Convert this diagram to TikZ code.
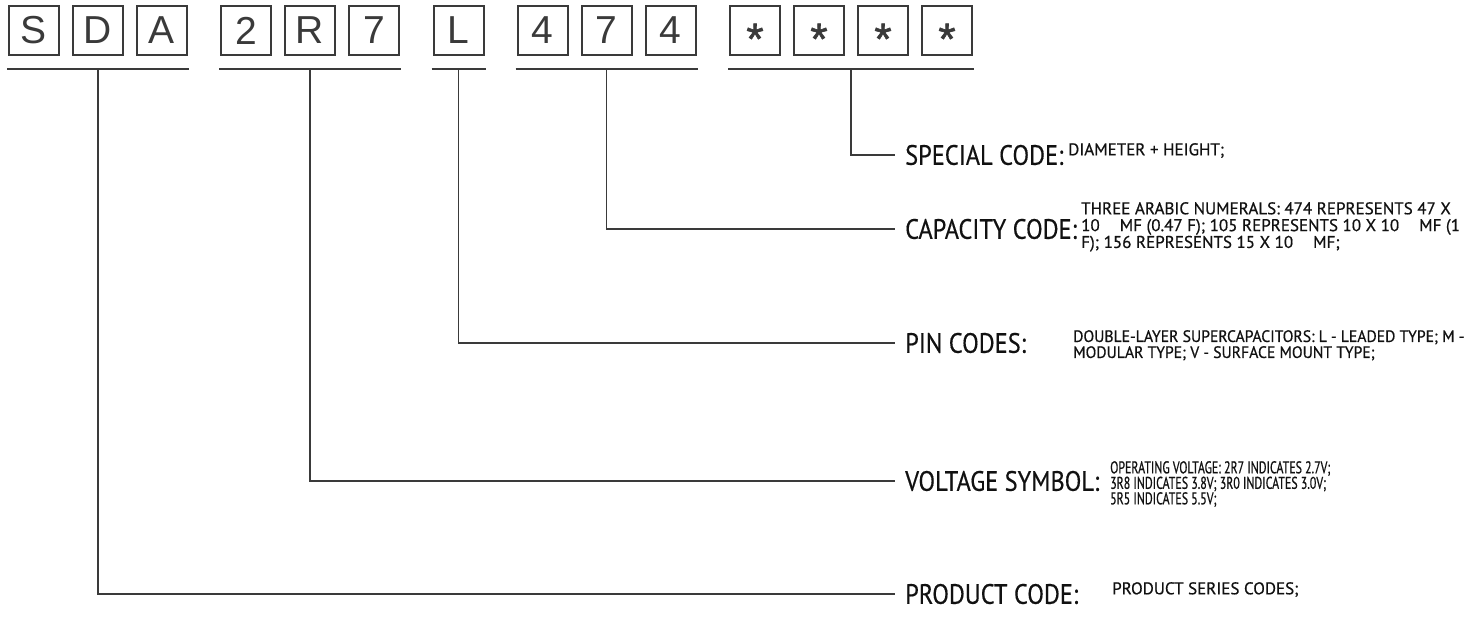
\documentclass[tikz,border=0pt]{standalone}
\usepackage{fontspec}
\usetikzlibrary{calc}
\setmainfont{PT Sans}
\newfontfamily\boxfont{Liberation Sans}
\newfontfamily\starfont[FakeBold=1.5]{Liberation Sans}
\newfontfamily\labfont[FakeStretch=0.87,FakeBold=0.4]{PT Sans}
\newfontfamily\descfont[FakeStretch=1.0,FakeBold=0.6]{PT Sans}
\newfontfamily\pinfont[FakeStretch=0.95,FakeBold=0.6]{PT Sans}
\newfontfamily\voltfont[FakeStretch=0.7,FakeBold=0.6]{PT Sans}
\definecolor{ink}{HTML}{3A3A3A}
\definecolor{txt}{HTML}{111111}
\newcommand{\gapsp}{\hspace{20pt}}
\newcommand{\starglyph}{\smash{\raisebox{-23.5pt}{\starfont\fontsize{44}{44}\selectfont *}}}
\begin{document}
\begin{tikzpicture}[x=1pt,y=-1pt,
  cbox/.style={draw=ink,line width=2pt,minimum width=50pt,minimum height=49pt,inner sep=0pt,text=ink,font=\boxfont\fontsize{39}{39}\selectfont},
  uline/.style={draw=ink,line width=2pt},
  conn/.style={draw=ink,line width=1.6pt},
  lab/.style={anchor=west,inner xsep=10pt,inner ysep=0pt,text=txt,font=\labfont\fontsize{28}{28}\selectfont},
  desc/.style={anchor=north west,inner sep=0pt,align=left,text=txt,font=\descfont\fontsize{17}{16.8}\selectfont},
  pdesc/.style={desc,font=\pinfont\fontsize{16.5}{16}\selectfont},
  vdesc/.style={desc,font=\voltfont\fontsize{17}{15.5}\selectfont}]
\useasboundingbox (0,0) rectangle (1479,626);

% code boxes
\node[cbox] (b1) at (34,30.5) {S};
\node[cbox] (b2) at (98,30.5) {D};
\node[cbox] (b3) at (162,30.5) {A};
\node[cbox] (b4) at (246,30.5) {2};
\node[cbox] (b5) at (310,30.5) {R};
\node[cbox] (b6) at (374,30.5) {7};
\node[cbox] (b7) at (458.5,30.5) {L};
\node[cbox] (b8) at (542.5,30.5) {4};
\node[cbox] (b9) at (606.5,30.5) {7};
\node[cbox] (b10) at (670.5,30.5) {4};
\node[cbox] (b11) at (755,30.5) {\starglyph};
\node[cbox] (b12) at (819,30.5) {\starglyph};
\node[cbox] (b13) at (883,30.5) {\starglyph};
\node[cbox] (b14) at (947,30.5) {\starglyph};
\coordinate (g5) at ($(b12.south)!0.5!(b13.south)$);

% underlines
\draw[uline] ([shift={(-1pt,-13pt)}]b1.south west) -- ([shift={(1pt,-13pt)}]b3.south east);
\draw[uline] ([shift={(-1pt,-13pt)}]b4.south west) -- ([shift={(1pt,-13pt)}]b6.south east);
\draw[uline] ([shift={(-1pt,-13pt)}]b7.south west) -- ([shift={(1pt,-13pt)}]b7.south east);
\draw[uline] ([shift={(-1pt,-13pt)}]b8.south west) -- ([shift={(1pt,-13pt)}]b10.south east);
\draw[uline] ([shift={(-1pt,-13pt)}]b11.south west) -- ([shift={(1pt,-13pt)}]b14.south east);

% labels
\node[lab] (lS) at (895,155) {SPECIAL CODE:};
\node[lab] (lC) at (895,229) {CAPACITY CODE:};
\node[lab] (lP) at (895,343) {PIN CODES:};
\node[lab] (lV) at (895,481) {VOLTAGE SYMBOL:};
\node[lab] (lR) at (895,594) {PRODUCT CODE:};

% descriptions
\node[desc] (dS) at (1068,143) {DIAMETER + HEIGHT;};
\node[desc] (dC) at (1081,202) {THREE ARABIC NUMERALS: 474 REPRESENTS 47 X\\
10\gapsp MF (0.47 F); 105 REPRESENTS 10 X 10\gapsp MF (1\\
F); 156 REPRESENTS 15 X 10\gapsp MF;};
\node[pdesc] (dP) at (1073,330) {DOUBLE-LAYER SUPERCAPACITORS: L - LEADED TYPE; M -\\
MODULAR TYPE; V - SURFACE MOUNT TYPE;};
\node[vdesc] (dV) at (1110,461) {OPERATING VOLTAGE: 2R7 INDICATES 2.7V;\\
3R8 INDICATES 3.8V; 3R0 INDICATES 3.0V;\\
5R5 INDICATES 5.5V;};
\node[desc] (dR) at (1112,582) {PRODUCT SERIES CODES;};

% connectors
\draw[conn] ([yshift=-13pt]g5) |- (lS.west);
\draw[conn] ([yshift=-13pt]b9.south) |- (lC.west);
\draw[conn] ([yshift=-13pt]b7.south) |- (lP.west);
\draw[conn] ([yshift=-13pt]b5.south) |- (lV.west);
\draw[conn] ([yshift=-13pt]b2.south) |- (lR.west);
\end{tikzpicture}
\end{document}
